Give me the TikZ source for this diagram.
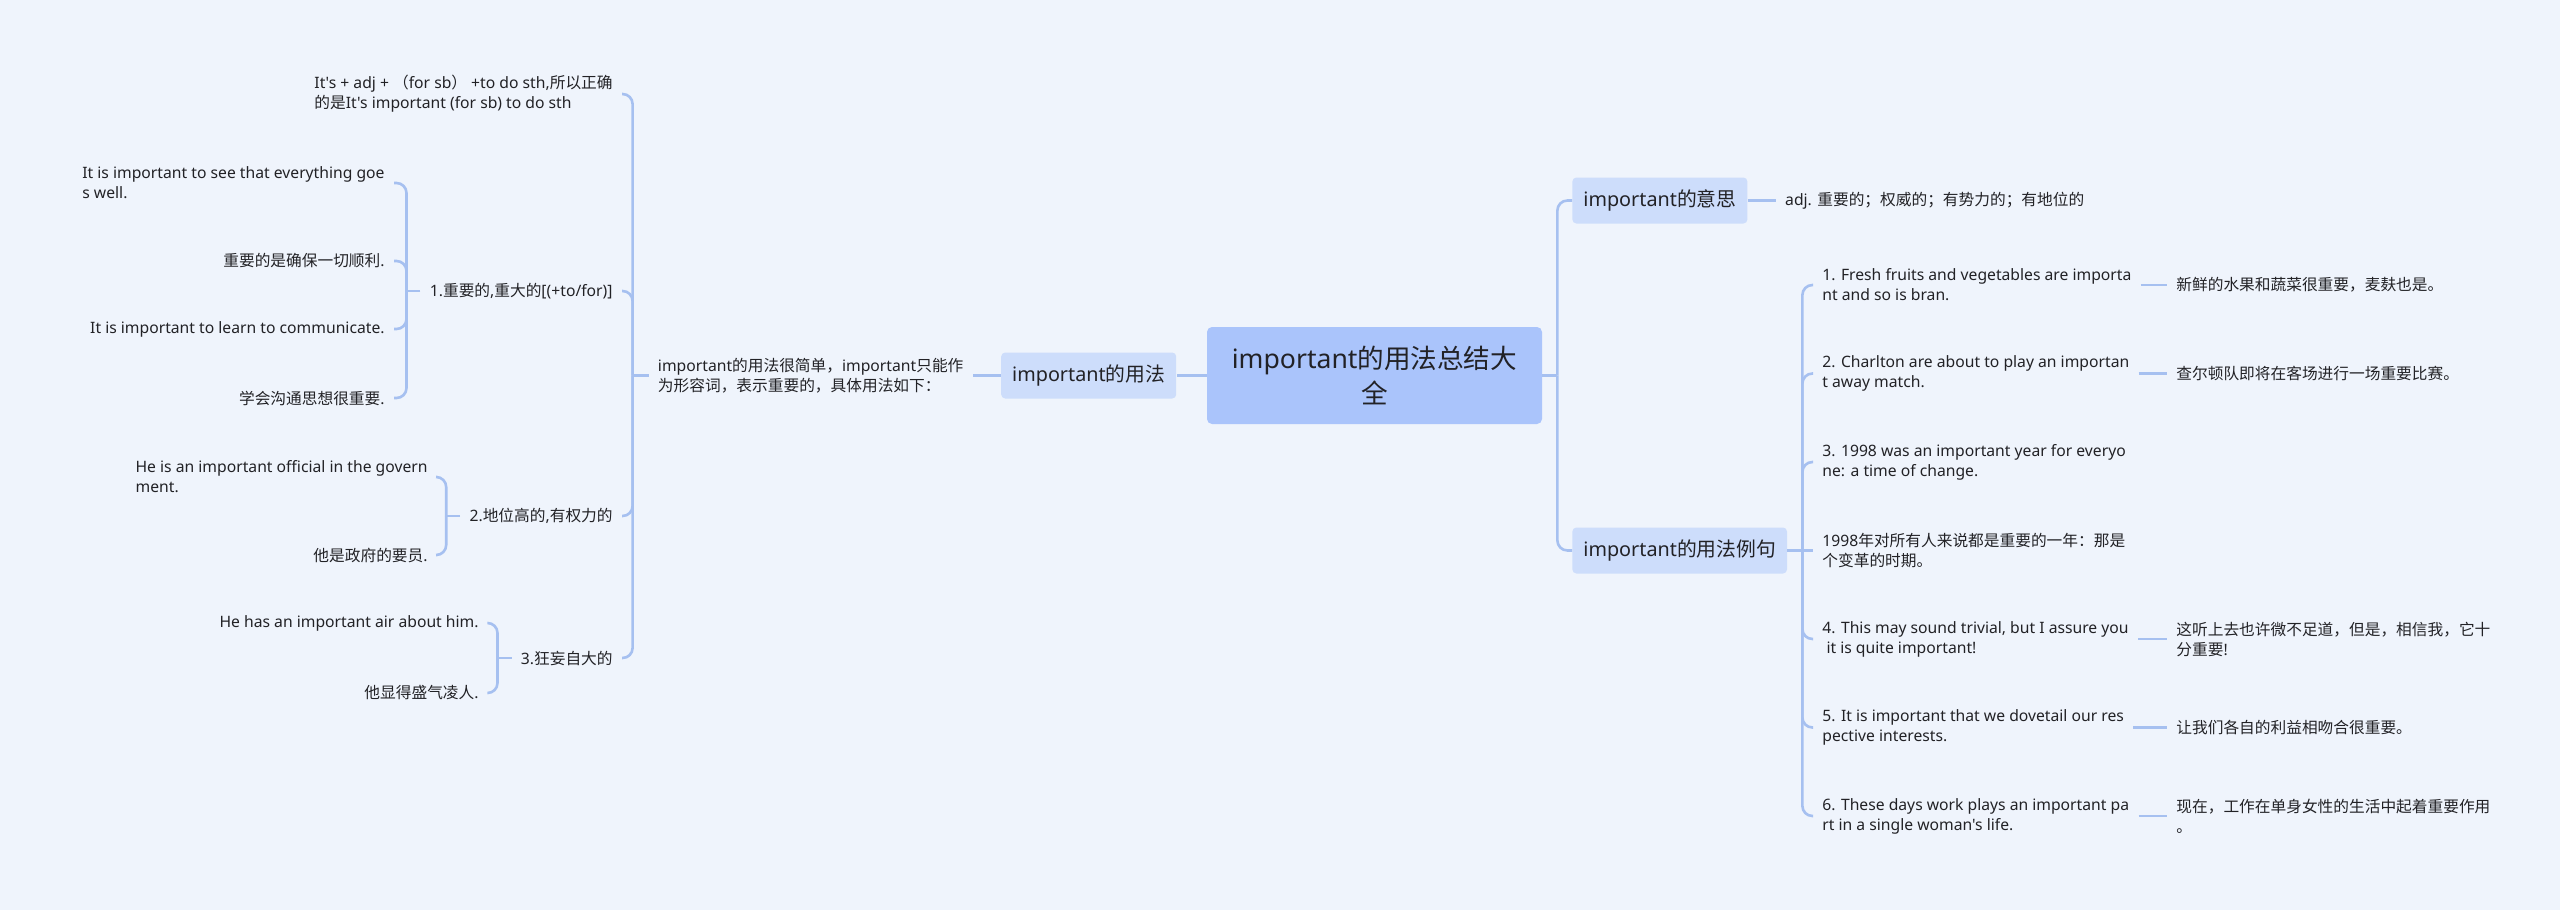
\documentclass[tikz,border=0pt]{standalone}
\usepackage{fontspec}
\newfontfamily\latinfont{Noto Sans}
\newfontfamily\cjkfont{Noto Sans CJK SC}
\usetikzlibrary{positioning}

\XeTeXinterchartokenstate=1
\newXeTeXintercharclass\cjkcls
\newcount\cjkn
\newcommand\cjkrange[2]{%
  \cjkn=#1\relax
  \loop
    \XeTeXcharclass\cjkn=\cjkcls
  \ifnum\cjkn<#2\relax
    \advance\cjkn by 1
  \repeat}
\cjkrange{"3000}{"303F}
\cjkrange{"4E00}{"9FFF}
\cjkrange{"FF00}{"FFEF}
\XeTeXinterchartoks 0 \cjkcls = {\cjkfont}
\XeTeXinterchartoks 4095 \cjkcls = {\cjkfont}
\XeTeXinterchartoks \cjkcls 0 = {\latinfont}
\XeTeXinterchartoks \cjkcls 4095 = {\latinfont}

\definecolor{paper}{RGB}{239,244,252}
\definecolor{rootblue}{RGB}{170,196,251}
\definecolor{topicblue}{RGB}{205,221,251}
\definecolor{linkblue}{RGB}{166,192,240}
\definecolor{ink}{RGB}{34,34,38}

\tikzset{
  root/.style={
    fill=rootblue, rounded corners=2.5pt,
    minimum width=167.5pt, minimum height=48.5pt,
    font=\latinfont\fontsize{13.3}{17.5}\selectfont, align=center, text=ink
  },
  topic/.style={
    fill=topicblue, rounded corners=2pt,
    minimum height=23pt, inner xsep=5.5pt,
    font=\latinfont\fontsize{9.9}{12}\selectfont, text=ink
  },
  leaf/.style={
    inner xsep=4.5pt, inner ysep=1pt,
    font=\latinfont\fontsize{7.85}{10}\selectfont, align=left, text=ink
  },
  link/.style={draw=linkblue, line width=1.3pt, rounded corners=5pt},
}

\begin{document}
\begin{tikzpicture}[x=0.5pt, y=-0.5pt]
    \useasboundingbox (0,0) rectangle (2560,910);
    \fill[paper] (0,0) rectangle (2560,910);

    \node[root]                        (R) at (1374.5,375.5) {important的用法总结大\\全};
    \node[topic, left=15pt of R]       (U) {important的用法};
    \node[topic, anchor=west]          (M) at (1572,200.5) {important的意思};
    \node[topic, anchor=west]          (E) at (1572,550.5) {important的用法例句};
    \node[leaf, right=14pt of M]       (A) {adj. 重要的；权威的；有势力的；有地位的};

    \coordinate[right=7.5pt of R] (rtr);
    \coordinate[right=7.5pt of E] (etr);
    \coordinate (tcol) at (2167,0);

    \node[leaf, anchor=west] (S1) at (1813,285)   {1. Fresh fruits and vegetables are importa\\nt and so is bran.};
    \node[leaf, anchor=west] (S2) at (1813,373.5) {2. Charlton are about to play an importan\\t away match.};
    \node[leaf, anchor=west] (S3) at (1813,462)   {3. 1998 was an important year for everyo\\ne: a time of change.};
    \node[leaf, anchor=west] (S4) at (1813,550.5) {1998年对所有人来说都是重要的一年：那是\\个变革的时期。};
    \node[leaf, anchor=west] (S5) at (1813,639)   {4. This may sound trivial, but I assure you\\\ it is quite important!};
    \node[leaf, anchor=west] (S6) at (1813,727.5) {5. It is important that we dovetail our res\\pective interests.};
    \node[leaf, anchor=west] (S7) at (1813,816)   {6. These days work plays an important pa\\rt in a single woman's life.};

    \node[leaf, anchor=west] (T1) at (S1 -| tcol) {新鲜的水果和蔬菜很重要，麦麸也是。};
    \node[leaf, anchor=west] (T2) at (S2 -| tcol) {查尔顿队即将在客场进行一场重要比赛。};
    \node[leaf, anchor=west] (T5) at (S5 -| tcol) {这听上去也许微不足道，但是，相信我，它十\\分重要!};
    \node[leaf, anchor=west] (T6) at (S6 -| tcol) {让我们各自的利益相吻合很重要。};
    \node[leaf, anchor=west] (T7) at (S7 -| tcol) {现在，工作在单身女性的生活中起着重要作用\\。};

    \node[leaf, left=14pt of U] (D) {important的用法很简单，important只能作\\为形容词，表示重要的，具体用法如下：};
    \coordinate[left=8pt of D] (dtr);

    \node[leaf, anchor=east] (K0) at (622,94)  {It's + adj + （for sb） +to do sth,所以正确\\的是It's important (for sb) to do sth};
    \node[leaf, anchor=east] (K1) at (622,291) {1.重要的,重大的[(+to/for)]};
    \node[leaf, anchor=east] (K2) at (622,516) {2.地位高的,有权力的};
    \node[leaf, anchor=east] (K3) at (622,658) {3.狂妄自大的};
    \coordinate[left=7pt of K1] (k1tr);
    \coordinate[left=7pt of K2] (k2tr);
    \coordinate[left=7pt of K3] (k3tr);

    \node[leaf, anchor=east] (K11) at (394,183) {It is important to see that everything goe\\s well.};
    \node[leaf, anchor=east] (K12) at (394,261) {重要的是确保一切顺利.};
    \node[leaf, anchor=east] (K13) at (394,329) {It is important to learn to communicate.};
    \node[leaf, anchor=east] (K14) at (394,398) {学会沟通思想很重要.};
    \node[leaf, anchor=east] (K21) at (437,477) {He is an important official in the govern\\ment.};
    \node[leaf, anchor=east] (K22) at (437,555) {他是政府的要员.};
    \node[leaf, anchor=east] (K31) at (488,623) {He has an important air about him.};
    \node[leaf, anchor=east] (K32) at (488,693) {他显得盛气凌人.};

    \draw[link] (R.east) -- (rtr);
    \draw[link] (rtr) |- (M.west);
    \draw[link] (rtr) |- (E.west);
    \draw[link] (M.east) -- (A.west);
    \draw[link] (E.east) -- (etr);
    \draw[link] (etr) |- (S1.west);
    \draw[link] (etr) |- (S2.west);
    \draw[link] (etr) |- (S3.west);
    \draw[link] (etr) -- (S4.west);
    \draw[link] (etr) |- (S5.west);
    \draw[link] (etr) |- (S6.west);
    \draw[link] (etr) |- (S7.west);
    \draw[link] (S1.east) -- (T1.west);
    \draw[link] (S2.east) -- (T2.west);
    \draw[link] (S5.east) -- (T5.west);
    \draw[link] (S6.east) -- (T6.west);
    \draw[link] (S7.east) -- (T7.west);

    \draw[link] (R.west) -- (U.east);
    \draw[link] (U.west) -- (D.east);
    \draw[link] (D.west) -- (dtr);
    \draw[link] (dtr) |- (K0.east);
    \draw[link] (dtr) |- (K1.east);
    \draw[link] (dtr) |- (K2.east);
    \draw[link] (dtr) |- (K3.east);
    \draw[link] (K1.west) -- (k1tr);
    \draw[link] (k1tr) |- (K11.east);
    \draw[link] (k1tr) |- (K12.east);
    \draw[link] (k1tr) |- (K13.east);
    \draw[link] (k1tr) |- (K14.east);
    \draw[link] (K2.west) -- (k2tr);
    \draw[link] (k2tr) |- (K21.east);
    \draw[link] (k2tr) |- (K22.east);
    \draw[link] (K3.west) -- (k3tr);
    \draw[link] (k3tr) |- (K31.east);
    \draw[link] (k3tr) |- (K32.east);
\end{tikzpicture}
\end{document}
